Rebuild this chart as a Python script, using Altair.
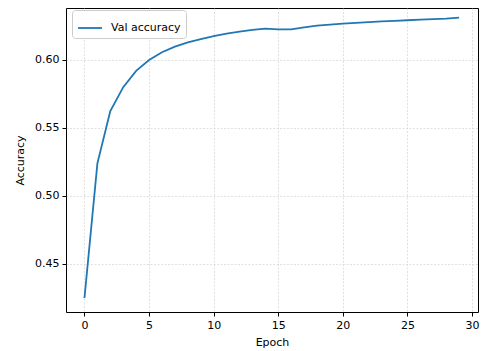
import altair as alt
import pandas as pd

epochs = list(range(30))
val_accuracy = [0.425, 0.524, 0.5625, 0.580, 0.592, 0.600, 0.6057, 0.6098, 0.613, 0.6154,
                0.6176, 0.6193, 0.6208, 0.6221, 0.6230, 0.6225, 0.6225, 0.6240, 0.6252, 0.6260,
                0.6267, 0.6273, 0.6278, 0.6283, 0.6288, 0.6292, 0.6296, 0.6300, 0.6304, 0.6311]
series_name = "Val accuracy"

df = pd.DataFrame({"Epoch": epochs, "Accuracy": val_accuracy, "series": series_name})

font = "DejaVu Sans"

chart = alt.Chart(df).mark_line(strokeWidth=1.8).encode(
    x=alt.X("Epoch:Q", scale=alt.Scale(domain=[-1.43, 30.46], nice=False, zero=False),
            axis=alt.Axis(values=[0, 5, 10, 15, 20, 25, 30], title="Epoch", format="d")),
    y=alt.Y("Accuracy:Q", scale=alt.Scale(domain=[0.4147, 0.6382], nice=False, zero=False),
            axis=alt.Axis(values=[0.45, 0.50, 0.55, 0.60], title="Accuracy", format=".2f")),
    color=alt.Color("series:N", scale=alt.Scale(range=["#1f77b4"]),
                    legend=alt.Legend(title=None, orient="none", legendX=6, legendY=2,
                                      symbolType="stroke", symbolSize=576, symbolStrokeWidth=1.8,
                                      labelFont=font, labelFontSize=11, labelColor="#000000",
                                      fillColor="white", strokeColor="#cccccc", cornerRadius=3,
                                      padding=5, labelOffset=8)),
).properties(
    width=412, height=304,
    autosize=alt.AutoSizeParams(type="none"),
    padding={"left": 58, "top": 0, "right": 6, "bottom": 39},
).configure_view(
    stroke="#000000", strokeWidth=1
).configure_axis(
    labelFont=font, titleFont=font, labelFontSize=11, titleFontSize=11,
    labelColor="#000000", titleColor="#000000", titleFontWeight="normal",
    domain=False, tickColor="#000000", tickSize=4, tickWidth=1,
    grid=True, gridColor="#d4d4d4", gridDash=[2, 1.5], gridWidth=0.7, labelPadding=3,
).configure_axisX(titlePadding=6).configure_axisY(titlePadding=9)

chart.save("out.html", embed_options={"renderer": "svg", "actions": False})
